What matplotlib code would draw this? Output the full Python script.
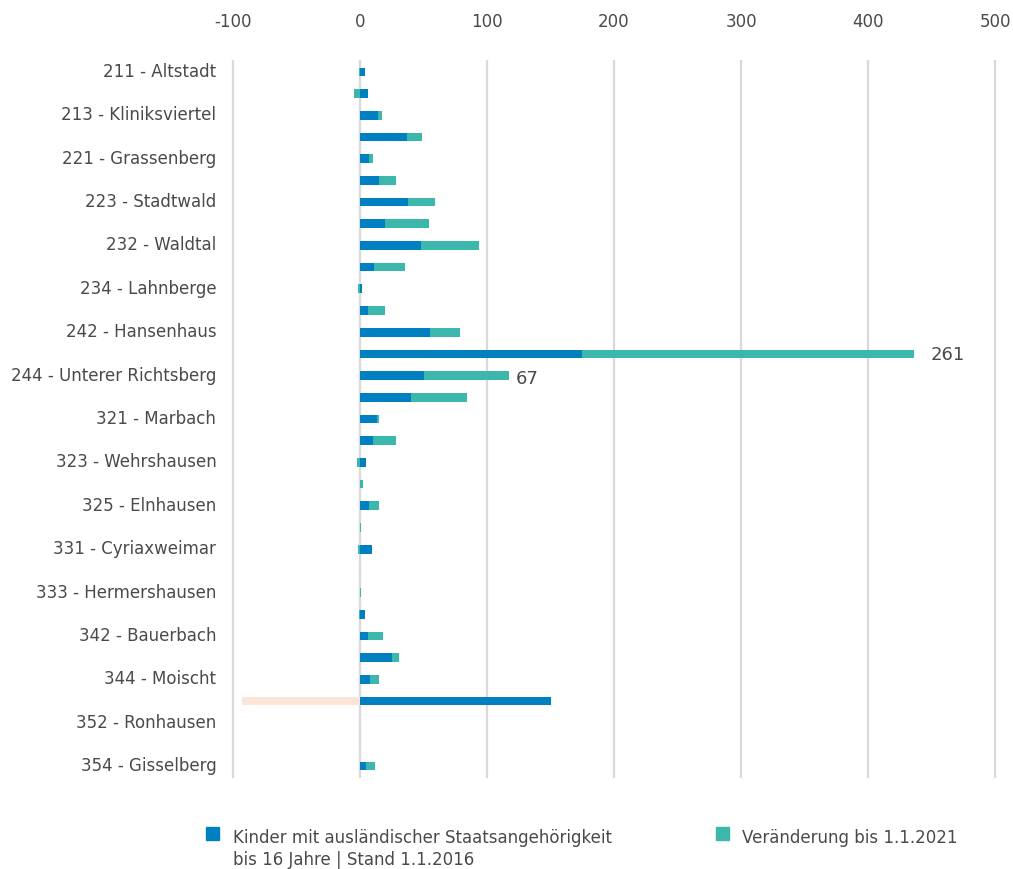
import numpy as np
import matplotlib
matplotlib.use('Agg')
import matplotlib.pyplot as plt
import matplotlib.transforms as mtransforms
from matplotlib.patches import Rectangle

plt.rcParams['axes.unicode_minus'] = False

# every other district name is hidden on the axis, as in the original
districts = ['211 - Altstadt', '', '213 - Kliniksviertel', '', '221 - Grassenberg', '',
             '223 - Stadtwald', '', '232 - Waldtal', '', '234 - Lahnberge', '',
             '242 - Hansenhaus', '', '244 - Unterer Richtsberg', '', '321 - Marbach', '',
             '323 - Wehrshausen', '', '325 - Elnhausen', '', '331 - Cyriaxweimar', '',
             '333 - Hermershausen', '', '342 - Bauerbach', '', '344 - Moischt', '',
             '352 - Ronhausen', '', '354 - Gisselberg']
kids_2016 = [4, 6, 14.5, 37, 7, 15, 38, 20, 48, 11, 1.5, 6.5, 55, 175, 50, 40, 13, 10,
             5, 0, 7, 0, 9.5, 0, 0, 4, 6.5, 25.5, 8, 150, 0, 0, 5]
change_2021 = [-0.5, -5, 3, 12, 3, 13, 21, 34, 46, 24.5, -1.5, 13, 23.5, 261, 67, 44, 2, 18,
               -2.5, 2.5, 8, 1, -1.5, 0, 1, -0.8, 11.5, 5.5, 7, -93, 0, 0, 6.5]
highlight_rows = [29]
label_rows = [13, 14]
legend_labels = [['Kinder mit ausländischer Staatsangehörigkeit', 'bis 16 Jahre | Stand 1.1.2016'],
                 ['Veränderung bis 1.1.2021']]

BLUE = '#0080c0'
TEAL = '#3bb7ab'
PEACH = '#fbe5d6'
GRID = '#d9d9d9'
TXT = '#4a4a4a'

W, H = 1013, 870
fig = plt.figure(figsize=(W/100, H/100), dpi=100)
ax = fig.add_axes([233/W, 1-778/H, (995-233)/W, (778-62)/H])

y = np.arange(len(districts))
kids = np.array(kids_2016)
chg = np.array(change_2021)
left = np.where(chg >= 0, kids, 0)
colors = [PEACH if i in highlight_rows else TEAL for i in range(len(y))]

ax.barh(y, kids, height=0.4, color=BLUE, zorder=3)
ax.barh(y, chg, left=left, height=0.4, color=colors, zorder=3)

for i in label_rows:
    end = left[i] + chg[i]
    off = 12 if i == 13 else 5
    ax.annotate(f'{chg[i]:g}', (end, y[i]), xytext=(off, -2 if i == 14 else 0),
                textcoords='offset points', ha='left', va='center',
                fontsize=13, color=TXT)

ax.set_xlim(-100, 500)
ax.set_ylim(len(districts) - 0.5, -0.5)
ax.set_xticks(np.arange(-100, 501, 100))
ax.xaxis.tick_top()
ax.set_yticks(y)
ax.set_yticklabels(districts)
ax.tick_params(axis='x', length=0, pad=22, labelsize=12, labelcolor=TXT)
ax.tick_params(axis='y', length=0, pad=12, labelsize=12, labelcolor=TXT)
shift = mtransforms.ScaledTranslation(0, 3/100, fig.dpi_scale_trans)
for lab in ax.get_yticklabels():
    lab.set_transform(lab.get_transform() + shift)
ax.grid(axis='x', color=GRID, linewidth=1.6)
for gl in ax.get_xgridlines():
    gl.set_clip_on(False)
ax.set_axisbelow(True)
for s in ax.spines.values():
    s.set_visible(False)

# legend drawn by hand: square next to the first line of each label
for (sx, tx), col, lines in zip([(206, 233), (716, 742)], [BLUE, TEAL], legend_labels):
    fig.add_artist(Rectangle((sx/W, 1-841/H), 13/W, 13/H, transform=fig.transFigure,
                             color=col))
    for k, line in enumerate(lines):
        fig.text(tx/W, 1-(843 + 22*k)/H, line, ha='left', va='baseline',
                 fontsize=12, color=TXT)

fig.savefig('out.png', dpi=100)
